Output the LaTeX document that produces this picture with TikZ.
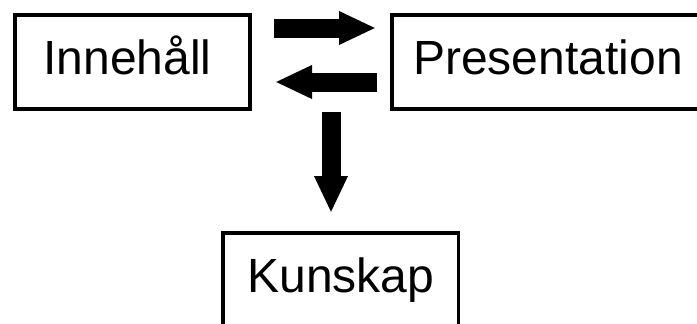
\documentclass[tikz,border=0pt]{standalone}
\usepackage{fontspec}
\setmainfont{Liberation Sans}
\usetikzlibrary{arrows.meta}
\tikzset{
  box/.style={draw=black, line width=3.5pt, rectangle, inner sep=0pt,
    minimum height=94pt, font=\fontsize{48}{48}\selectfont,
    text height=34pt, text depth=9pt},
  blockarrow/.style={line width=19pt, draw=black,
    -{Triangle[length=37pt,width=31pt]}}
}
\begin{document}
\begin{tikzpicture}[x=1pt,y=-1pt]
  \path[use as bounding box, clip] (0,0) rectangle (697,324);
  \fill[white] (0,0) rectangle (697,324);

  % the three boxes
  \node[box, minimum width=235.3pt] (inne) at (132.4,62) {Innehåll\kern10pt};
  \node[box, minimum width=312pt]   (pres) at (548,62)   {Presentation};
  \node[box, minimum width=235.7pt] (kuns) at (340.8,280) {Kunskap};

  % ends of the block arrows
  \coordinate (fwdA)  at (274,28);
  \coordinate (fwdB)  at (376,28);
  \coordinate (backA) at (377,82);
  \coordinate (backB) at (275,82);
  \coordinate (downA) at (331,112);
  \coordinate (downB) at (331,213);

  \draw[blockarrow] (fwdA) -- (fwdB);
  \draw[blockarrow] (backA) -- (backB);
  \draw[blockarrow] (downA) -- (downB);
\end{tikzpicture}
\end{document}
